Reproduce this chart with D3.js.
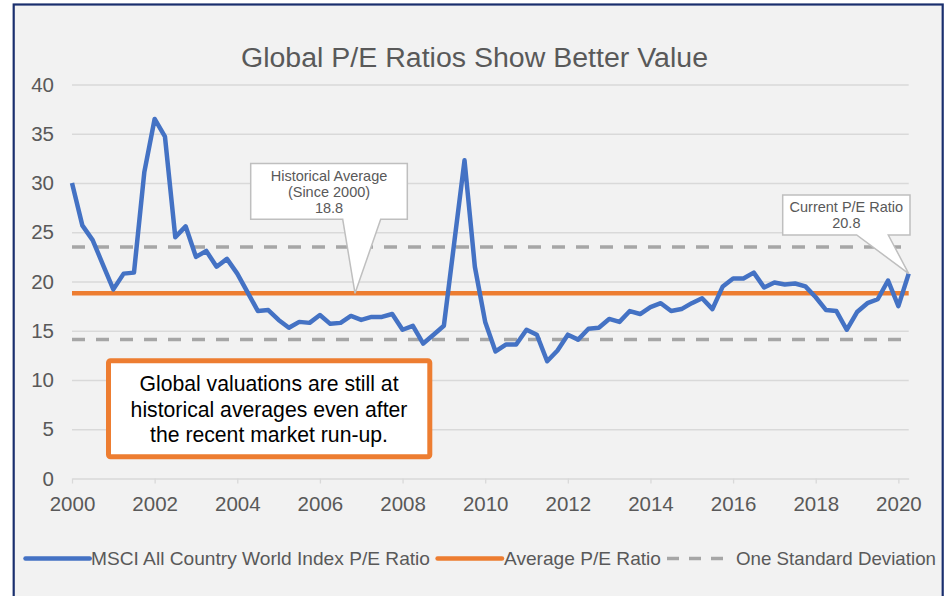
<!DOCTYPE html>
<html>
<head>
<meta charset="utf-8">
<script src="https://cdn.jsdelivr.net/npm/d3@7"></script>
<style>
  html, body { margin: 0; padding: 0; background: #fff; }
  svg { display: block; font-family: "Liberation Sans", Arial, sans-serif; }
</style>
</head>
<body>
<div id="chart"></div>
<script>
// MSCI ACWI P/E ratio, quarterly from 2000 Q1 to 2020 Q2
const startYear = 2000;
const peRatio = [
  30.0, 25.7, 24.2, 21.7, 19.2, 20.8, 20.9, 31.1, 36.5, 34.7,
  24.5, 25.6, 22.5, 23.1, 21.5, 22.3, 20.8, 18.9, 17.0, 17.1,
  16.1, 15.3, 15.9, 15.8, 16.6, 15.7, 15.8, 16.5, 16.1, 16.4,
  16.4, 16.7, 15.1, 15.5, 13.7, 14.6, 15.5, 23.9, 32.3, 21.5,
  15.9, 12.9, 13.6, 13.6, 15.1, 14.6, 11.9, 13.0, 14.6, 14.1,
  15.2, 15.3, 16.2, 15.9, 17.0, 16.7, 17.4, 17.8, 17.0, 17.2,
  17.8, 18.3, 17.2, 19.5, 20.3, 20.3, 20.9, 19.4, 19.9, 19.7,
  19.8, 19.5, 18.4, 17.1, 17.0, 15.1, 16.9, 17.8, 18.2, 20.1,
  17.5, 20.8
];
const average = 18.8;
const stdBands = [23.5, 14.1];
const yTicks = [0, 5, 10, 15, 20, 25, 30, 35, 40];
const xTicks = [2000, 2002, 2004, 2006, 2008, 2010, 2012, 2014, 2016, 2018, 2020];
const avgCalloutLines = ['Historical Average', '(Since 2000)', '18.8'];
const currentCalloutLines = ['Current P/E Ratio', '20.8'];
const noteLines = ['Global valuations are still at', 'historical averages even after', 'the recent market run-up.'];
const legendItems = ['MSCI All Country World Index P/E Ratio', 'Average P/E Ratio', 'One Standard Deviation'];

const width = 951;
const height = 596;
const blue = '#4472c4';
const orange = '#ed7d31';
const grey = '#a6a6a6';
const textGrey = '#595959';

const points = peRatio.map((v, i) => ({ t: startYear + i / 4, v }));
const lastPoint = points[points.length - 1];

const x = d3.scaleLinear().domain([2000, lastPoint.t]).range([72, 908.7]);
const y = d3.scaleLinear().domain([0, 40]).range([478.5, 84.5]);

const svg = d3.select('#chart').append('svg')
  .attr('width', width)
  .attr('height', height);

// frame
svg.append('rect')
  .attr('x', 13.7).attr('y', 4.5)
  .attr('width', 929).attr('height', 620)
  .attr('fill', '#f2f2f2')
  .attr('stroke', '#1a2f6e')
  .attr('stroke-width', 2.2);

// title
svg.append('text')
  .attr('x', 474.5).attr('y', 66.5)
  .attr('text-anchor', 'middle')
  .attr('font-size', 27)
  .attr('textLength', 467)
  .attr('lengthAdjust', 'spacingAndGlyphs')
  .attr('fill', textGrey)
  .text('Global P/E Ratios Show Better Value');

// y axis + gridlines
const yAxis = svg.append('g')
  .attr('transform', `translate(${x.range()[0]},0)`)
  .call(d3.axisLeft(y).tickValues(yTicks).tickSize(-(x.range()[1] - x.range()[0])).tickPadding(18));
yAxis.select('.domain').remove();
yAxis.selectAll('.tick line').attr('stroke', '#d9d9d9').attr('stroke-width', 1.3);
yAxis.selectAll('.tick text').attr('font-size', 20.5).attr('fill', textGrey).attr('font-family', null);
yAxis.selectAll('.tick').filter(d => d === 0).select('line').remove();

// x axis
const xAxis = svg.append('g')
  .attr('transform', `translate(0,${y(0)})`)
  .call(d3.axisBottom(x).tickValues(xTicks).tickFormat(d3.format('d')).tickSize(5).tickSizeOuter(0).tickPadding(13));
xAxis.select('.domain').attr('stroke', '#d9d9d9').attr('stroke-width', 1.3);
xAxis.selectAll('.tick line').attr('stroke', '#d9d9d9').attr('stroke-width', 1.3);
xAxis.selectAll('.tick text').attr('font-size', 20.5).attr('fill', textGrey).attr('font-family', null);

// standard deviation bands
svg.selectAll('.band')
  .data(stdBands)
  .join('line')
  .attr('class', 'band')
  .attr('x1', x.range()[0]).attr('x2', x.range()[1])
  .attr('y1', d => y(d)).attr('y2', d => y(d))
  .attr('stroke', grey)
  .attr('stroke-width', 3.5)
  .attr('stroke-dasharray', '13 11');

// average line
svg.append('line')
  .attr('x1', x.range()[0]).attr('x2', x.range()[1])
  .attr('y1', y(average)).attr('y2', y(average))
  .attr('stroke', orange)
  .attr('stroke-width', 4.5);

// P/E line
const line = d3.line().x(d => x(d.t)).y(d => y(d.v));
svg.append('path')
  .datum(points)
  .attr('fill', 'none')
  .attr('stroke', blue)
  .attr('stroke-width', 4.5)
  .attr('stroke-linejoin', 'round')
  .attr('d', line);

// callout helper: box with a pointer to (tx, ty)
function callout(box, notch, tip, lines, baseline, lineH) {
  const [x0, y0, x1, y1] = box;
  const p = d3.path();
  p.moveTo(x0, y0);
  p.lineTo(x1, y0);
  p.lineTo(x1, y1);
  p.lineTo(notch[1], y1);
  p.lineTo(tip[0], tip[1]);
  p.lineTo(notch[0], y1);
  p.lineTo(x0, y1);
  p.closePath();
  svg.append('path')
    .attr('d', p.toString())
    .attr('fill', '#fff')
    .attr('stroke', '#bfbfbf')
    .attr('stroke-width', 1.5);
  svg.append('g').selectAll('text')
    .data(lines)
    .join('text')
    .attr('x', (x0 + x1) / 2)
    .attr('y', (d, i) => baseline + i * lineH)
    .attr('text-anchor', 'middle')
    .attr('font-size', 14.5)
    .attr('fill', textGrey)
    .text(d => d);
}

callout([250.7, 163.5, 407.3, 219.3], [342.7, 380.7], [x(2006.85), y(average)], avgCalloutLines, 180.5, 16.3);
callout([782.7, 195, 910, 235], [856.7, 888.3], [x(lastPoint.t), y(lastPoint.v)], currentCalloutLines, 212.3, 16);

// note box
svg.append('rect')
  .attr('x', 108.5).attr('y', 360.8)
  .attr('width', 321.3).attr('height', 96)
  .attr('rx', 2)
  .attr('fill', '#fff')
  .attr('stroke', orange)
  .attr('stroke-width', 5);
svg.append('g').selectAll('text')
  .data(noteLines)
  .join('text')
  .attr('x', 269)
  .attr('y', (d, i) => 391 + i * 25.5)
  .attr('text-anchor', 'middle')
  .attr('font-size', 21.2)
  .attr('fill', '#000')
  .text(d => d);

// legend
const legendY = 558.5;
const legendText = [
  { x: 91, w: 339 },
  { x: 504, w: 157 },
  { x: 736, w: 200 }
];
const lg = svg.append('g').attr('font-size', 19).attr('fill', textGrey);
lg.append('line').attr('x1', 25.5).attr('x2', 89.7).attr('y1', legendY).attr('y2', legendY)
  .attr('stroke', blue).attr('stroke-width', 4.5).attr('stroke-linecap', 'round');
lg.append('line').attr('x1', 437.6).attr('x2', 502).attr('y1', legendY).attr('y2', legendY)
  .attr('stroke', orange).attr('stroke-width', 4.5).attr('stroke-linecap', 'round');
lg.append('line').attr('x1', 667).attr('x2', 730).attr('y1', legendY).attr('y2', legendY)
  .attr('stroke', grey).attr('stroke-width', 3.5).attr('stroke-dasharray', '12 10');
lg.selectAll('text')
  .data(legendItems)
  .join('text')
  .attr('x', (d, i) => legendText[i].x)
  .attr('y', legendY + 6.6)
  .attr('textLength', (d, i) => legendText[i].w)
  .attr('lengthAdjust', 'spacingAndGlyphs')
  .text(d => d);
</script>
</body>
</html>
